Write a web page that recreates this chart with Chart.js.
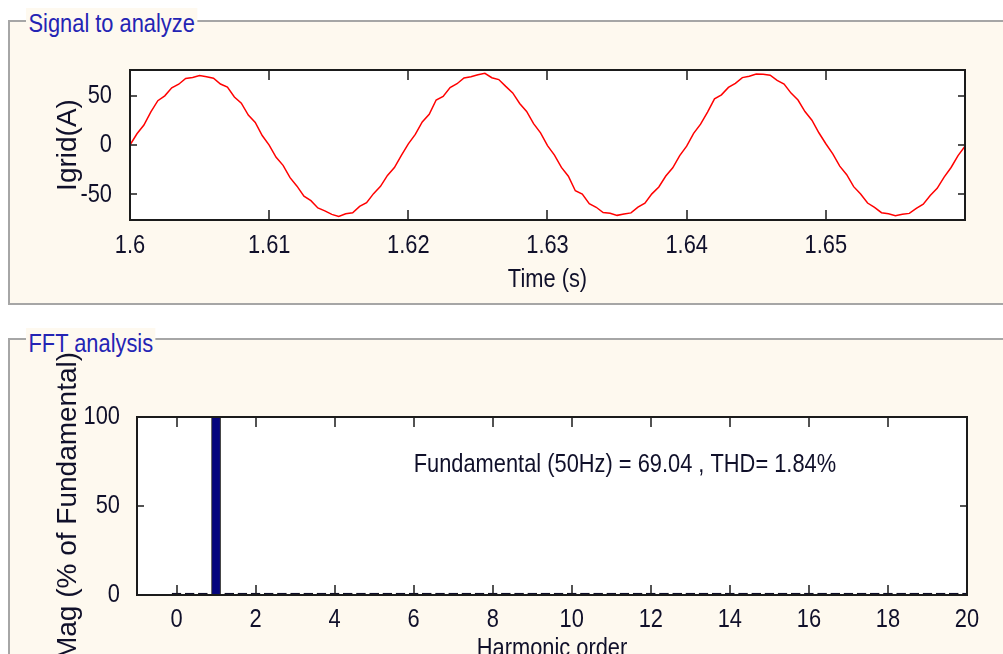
<!DOCTYPE html>
<html>
<head>
<meta charset="utf-8">
<script src="https://cdn.jsdelivr.net/npm/chart.js@4.4.1/dist/chart.umd.min.js"></script>
<style>
  body { margin: 0; width: 1003px; height: 654px; overflow: hidden; background: #fff; position: relative;
         font-family: 'Liberation Sans', Arial, sans-serif; }
  .panel { position: absolute; left: 8px; width: 1100px; background: #fef9ef; box-sizing: border-box;
           border: 2px solid #a6a6a6; border-right: none; }
  .panel-title { position: absolute; left: 26px; color: #2424b4; font-size: 26px; line-height: 30px; white-space: nowrap; }
  .panel-title span { display: inline-block; padding: 0 3px; background: #fef9ef;
                      transform: scaleX(0.84); transform-origin: left center; }
  canvas { position: absolute; left: 0; }
</style>
</head>
<body>
<div class="panel" style="top:20px;height:285px"></div>
<div class="panel-title" style="top:8px"><span>Signal to analyze</span></div>
<div class="panel" style="top:338px;height:400px"></div>
<div class="panel-title" style="top:328px"><span>FFT analysis</span></div>
<canvas id="signalCanvas" width="1003" height="270" style="top:40px"></canvas>
<canvas id="fftCanvas" width="1003" height="330" style="top:350px"></canvas>
<script>
// grid current, one sample every 0.5 ms from t = 1.6 s
const signalStart = 1.6;
const signalStep = 0.0005;
const igrid = [
  0.0, 11.4, 20.2, 33.6, 44.9, 49.8, 57.9, 61.6, 67.4, 68.5,
  70.4, 69.1, 67.6, 61.8, 58.6, 48.7, 42.4, 30.3, 22.9, 9.6,
  -0.1, -12.5, -20.6, -33.1, -41.7, -51.9, -56.4, -63.8, -66.7, -70.3,
  -72.4, -69.6, -68.7, -62.2, -58.4, -49.3, -41.9, -30.8, -22.8, -10.4,
  1.1, 10.7, 23.3, 31.2, 45.6, 49.2, 58.3, 62.1, 68.0, 69.1,
  71.2, 72.6, 68.2, 66.3, 59.4, 52.8, 42.1, 34.0, 21.7, 12.3,
  -0.6, -10.2, -22.7, -31.6, -46.4, -49.8, -59.5, -63.1, -68.4, -69.2,
  -71.3, -70.0, -68.8, -63.0, -58.9, -49.5, -42.5, -31.4, -23.1, -10.8,
  -1.2, 11.8, 21.1, 33.4, 46.7, 50.8, 58.4, 62.5, 68.3, 69.6,
  72.0, 71.8, 70.7, 65.4, 61.8, 52.6, 45.6, 33.9, 25.1, 12.4,
  1.3, -9.0, -21.4, -30.1, -42.2, -49.7, -58.8, -63.3, -68.6, -69.7,
  -71.6, -70.1, -69.3, -64.2, -60.0, -51.2, -43.9, -32.6, -22.8, -10.7,
  -1.3
];
const timeTicks = [1.6, 1.61, 1.62, 1.63, 1.64, 1.65];
const igridTicks = [-50, 0, 50];

// spectrum in % of fundamental, bins every 1/3 harmonic (3-cycle window)
const binStep = 1 / 3;
const harmonicMag = [
  0.60, 0.50, 0.60, 100, 0.60, 0.50,
  0.40, 0.50, 0.60, 0.73, 0.55, 0.50,
  0.35, 0.50, 0.50, 0.55, 0.50, 0.45,
  0.35, 0.45, 0.50, 0.50, 0.45, 0.45,
  0.35, 0.45, 0.40, 0.45, 0.45, 0.40,
  0.35, 0.40, 0.45, 0.45, 0.40, 0.40,
  0.35, 0.40, 0.40, 0.40, 0.40, 0.35,
  0.35, 0.35, 0.40, 0.40, 0.35, 0.35,
  0.35, 0.35, 0.35, 0.40, 0.35, 0.30,
  0.35, 0.30, 0.35, 0.40, 0.30, 0.30,
  0.35
];
const harmonicTicks = [0, 2, 4, 6, 8, 10, 12, 14, 16, 18, 20];
const magTicks = [0, 50, 100];

const fundamentalHz = 50;
const fundamentalAmp = 69.04;
const thdPercent = 1.84;

const plainFont = "'Liberation Sans', Arial, sans-serif";
const inkColor = '#10102a';
const textSqueeze = 0.84;   // horizontal labels use a narrow face

// squeeze horizontal text; rotated axis titles keep their normal width
const narrowText = {
  id: 'narrowText',
  beforeInit(chart) {
    const ctx = chart.ctx;
    const fill = ctx.fillText.bind(ctx);
    ctx.fillText = function (text, x, y, maxWidth) {
      const m = ctx.getTransform();
      if (m.b !== 0 || m.c !== 0) return fill(text, x, y, maxWidth);
      ctx.save();
      ctx.translate(x, y);
      ctx.scale(textSqueeze, 1);
      fill(text, 0, 0);
      ctx.restore();
    };
  }
};

// white plot box, black frame and inward ticks on all four sides
const matlabAxes = {
  id: 'matlabAxes',
  beforeDatasetsDraw(chart) {
    const { ctx, chartArea: a } = chart;
    ctx.save();
    ctx.fillStyle = '#fff';
    ctx.fillRect(a.left, a.top, a.right - a.left, a.bottom - a.top);
    ctx.restore();
  },
  afterDatasetsDraw(chart, args, opts) {
    const { ctx, chartArea: a, scales: { x, y } } = chart;
    ctx.save();
    ctx.strokeStyle = '#1b1b1b';
    ctx.lineWidth = 1.5;
    ctx.beginPath();
    x.ticks.forEach(t => {
      const px = Math.round(x.getPixelForValue(t.value));
      ctx.moveTo(px, a.bottom); ctx.lineTo(px, a.bottom - opts.xLen);
      ctx.moveTo(px, a.top); ctx.lineTo(px, a.top + opts.xLen);
    });
    y.ticks.forEach(t => {
      const py = Math.round(y.getPixelForValue(t.value));
      ctx.moveTo(a.left, py); ctx.lineTo(a.left + opts.yLen, py);
      ctx.moveTo(a.right, py); ctx.lineTo(a.right - opts.yLen, py);
    });
    ctx.stroke();
    ctx.lineWidth = 2;
    ctx.strokeRect(a.left, a.top, a.right - a.left, a.bottom - a.top);
    ctx.restore();
  }
};

// summary line written inside the spectrum plot
const fftNote = {
  id: 'fftNote',
  afterDatasetsDraw(chart, args, opts) {
    const { ctx, scales: { x, y } } = chart;
    const text = `Fundamental (${fundamentalHz}Hz) = ${fundamentalAmp.toFixed(2)} , THD= ${thdPercent.toFixed(2)}%`;
    ctx.save();
    ctx.font = `26px ${plainFont}`;
    ctx.fillStyle = inkColor;
    ctx.textBaseline = 'middle';
    ctx.fillText(text, x.getPixelForValue(opts.x), y.getPixelForValue(opts.y));
    ctx.restore();
  }
};

function fixedTicks(list) {
  return (scale) => { scale.ticks = list.map(v => ({ value: v })); };
}

function tickOpts(pad) {
  return { font: { family: plainFont, size: 26 }, color: inkColor, padding: pad, autoSkip: false,
           maxRotation: 0, callback: (v) => String(v) };
}

const signalChart = new Chart(document.getElementById('signalCanvas'), {
  type: 'line',
  data: {
    datasets: [{
      data: igrid.map((v, k) => ({ x: signalStart + k * signalStep, y: v })),
      borderColor: '#ff0000',
      borderWidth: 1.5,
      pointRadius: 0,
      tension: 0
    }]
  },
  options: {
    responsive: false,
    animation: false,
    layout: { padding: { left: 0, right: 38, top: 30, bottom: 0 } },
    plugins: { legend: { display: false }, tooltip: { enabled: false }, matlabAxes: { xLen: 10, yLen: 7 } },
    scales: {
      x: {
        type: 'linear', min: 1.6, max: 1.66,
        afterBuildTicks: fixedTicks(timeTicks),
        afterFit: (s) => { s.height = 90; },
        grid: { display: false }, border: { display: false },
        ticks: tickOpts(2),
        title: { display: true, text: 'Time (s)', color: inkColor, font: { family: plainFont, size: 26 }, padding: { bottom: 15 } }
      },
      y: {
        min: -76, max: 76,
        afterBuildTicks: fixedTicks(igridTicks),
        afterFit: (s) => { s.width = 130; },
        grid: { display: false }, border: { display: false },
        ticks: tickOpts(10),
        title: { display: true, text: 'Igrid(A)', color: inkColor, font: { family: plainFont, size: 28 }, padding: { top: 51 } }
      }
    }
  },
  plugins: [narrowText, matlabAxes]
});

const fftChart = new Chart(document.getElementById('fftCanvas'), {
  type: 'bar',
  data: {
    datasets: [{
      data: harmonicMag.map((v, k) => ({ x: k * binStep, y: v })),
      backgroundColor: '#05057e',
      borderColor: '#101010',
      borderWidth: 1,
      borderSkipped: 'start',
      barThickness: 9,
      minBarLength: 2
    }]
  },
  options: {
    responsive: false,
    animation: false,
    layout: { padding: { left: 0, right: 36, top: 67, bottom: 0 } },
    plugins: {
      legend: { display: false }, tooltip: { enabled: false },
      matlabAxes: { xLen: 10, yLen: 7 },
      fftNote: { x: 6, y: 73 }
    },
    scales: {
      x: {
        type: 'linear', min: -1, max: 20, offset: false,
        afterBuildTicks: fixedTicks(harmonicTicks),
        afterFit: (s) => { s.height = 85; },
        grid: { display: false }, border: { display: false },
        ticks: tickOpts(1),
        title: { display: true, text: 'Harmonic order', color: inkColor, font: { family: plainFont, size: 26 }, padding: { bottom: 16 } }
      },
      y: {
        min: 0, max: 100,
        afterBuildTicks: fixedTicks(magTicks),
        afterFit: (s) => { s.width = 137; },
        grid: { display: false }, border: { display: false },
        ticks: tickOpts(9),
        title: { display: true, text: 'Mag (% of Fundamental)', color: inkColor, font: { family: plainFont, size: 28 }, padding: { top: 51 } }
      }
    }
  },
  plugins: [narrowText, matlabAxes, fftNote]
});
</script>
</body>
</html>
